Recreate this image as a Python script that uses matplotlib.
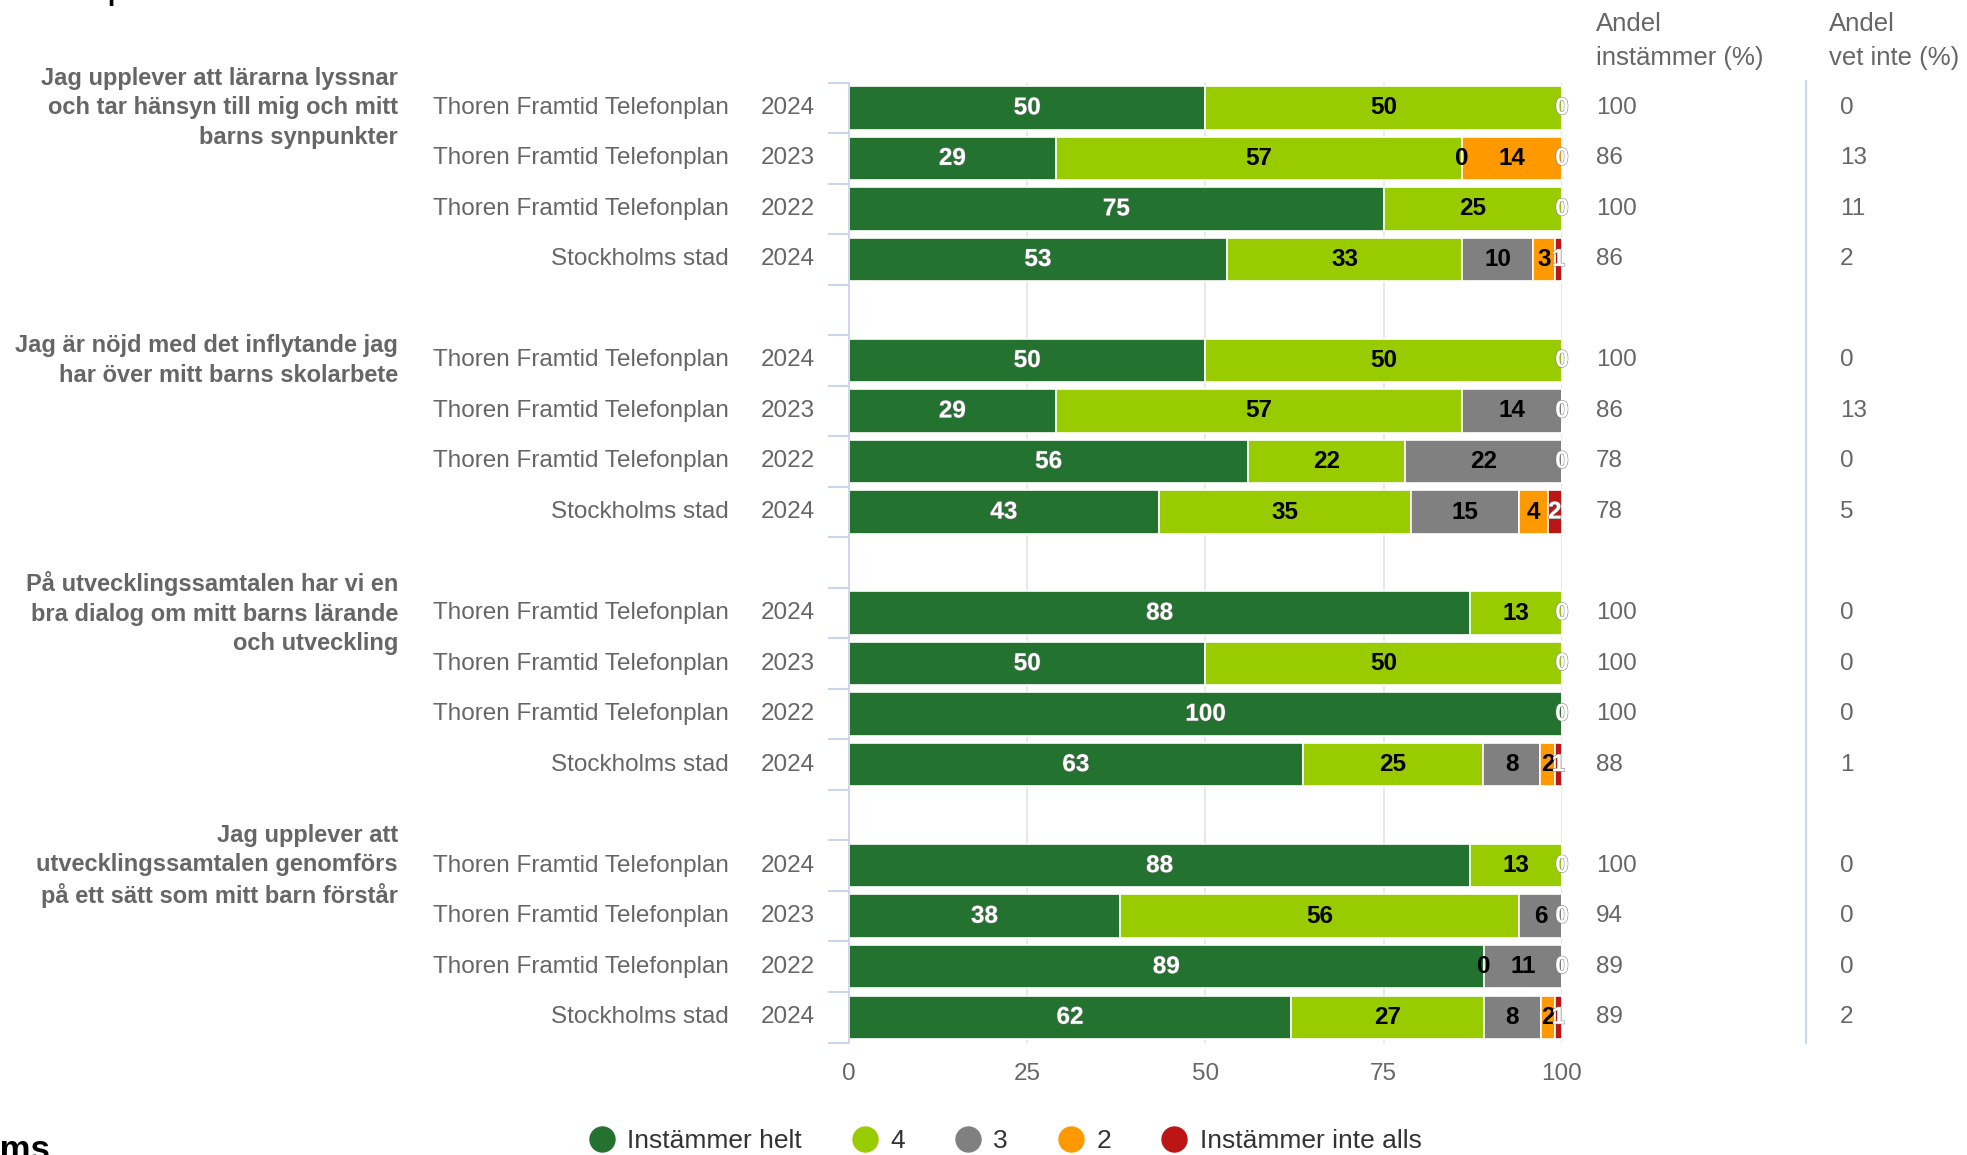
import numpy as np
import matplotlib.pyplot as plt
import matplotlib.patheffects as pe
from matplotlib.lines import Line2D

plt.rcParams['font.family'] = ['Liberation Sans', 'DejaVu Sans']

questions = [
    "Jag upplever att lärarna lyssnar\noch tar hänsyn till mig och mitt\nbarns synpunkter",
    "Jag är nöjd med det inflytande jag\nhar över mitt barns skolarbete",
    "På utvecklingssamtalen har vi en\nbra dialog om mitt barns lärande\noch utveckling",
    "Jag upplever att\nutvecklingssamtalen genomförs\npå ett sätt som mitt barn förstår",
]
units = ["Thoren Framtid Telefonplan"] * 3 + ["Stockholms stad"]
years = ["2024", "2023", "2022", "2024"]

series_names = ["Instämmer helt", "4", "3", "2", "Instämmer inte alls"]
helt = [50, 29, 75, 53, 50, 29, 56, 43, 88, 50, 100, 63, 88, 38, 89, 62]
four = [50, 57, 25, 33, 50, 57, 22, 35, 13, 50, 0, 25, 13, 56, 0, 27]
three = [0, 0, 0, 10, 0, 14, 22, 15, 0, 0, 0, 8, 0, 6, 11, 8]
two = [0, 14, 0, 3, 0, 0, 0, 4, 0, 0, 0, 2, 0, 0, 0, 2]
inte = [0, 0, 0, 1, 0, 0, 0, 2, 0, 0, 0, 1, 0, 0, 0, 1]
andel_instammer = [100, 86, 100, 86, 100, 86, 78, 78, 100, 100, 100, 88, 100, 94, 89, 89]
andel_vet_inte = [0, 13, 11, 2, 0, 13, 0, 5, 0, 0, 0, 1, 0, 0, 0, 2]
x_ticks = [0, 25, 50, 75, 100]

colors = ['#23722f', '#99cc00', '#808080', '#ff9900', '#bb1515']
label_colors = ['white', 'black', 'black', 'black', 'white']
GREY = '#666666'
AXIS_BLUE = '#ccd6eb'
FS = 17.5

values = np.array([helt, four, three, two, inte], dtype=float)
n_rows = values.shape[1]
rows_per_group = 4
# one empty slot between the question groups
ypos = np.array([(i // rows_per_group) * (rows_per_group + 1) + i % rows_per_group
                 for i in range(n_rows)])
pct = values / values.sum(axis=0) * 100
lefts = np.vstack([np.zeros(n_rows), np.cumsum(pct, axis=0)[:-1]])

fig = plt.figure(figsize=(19.67, 11.55), dpi=100)
ax = fig.add_axes([0.4316, 0.0974, 0.3625, 0.8311])

for k in range(len(series_names)):
    ax.barh(ypos, pct[k], left=lefts[k], height=0.86, color=colors[k],
            edgecolor='white', linewidth=1.2, zorder=2)

# data labels, zero-width segments at the same spot only show the last one
for i in range(n_rows):
    shown = {}
    for k in range(len(series_names)):
        xc = lefts[k, i] + pct[k, i] / 2
        shown[round(xc, 1)] = (xc, k)
    for xc, k in shown.values():
        txt = ax.text(xc, ypos[i], f"{values[k, i]:.0f}", ha='center', va='center',
                      fontsize=FS, fontweight='bold', color=label_colors[k], zorder=3)
        if label_colors[k] == 'white':
            txt.set_path_effects([pe.withStroke(linewidth=0.7, foreground='#777777')])

ax.set_xlim(0, 100)
ax.set_ylim(ypos.max() + 0.5, -0.5)
ax.set_xticks(x_ticks)
ax.set_xticklabels([str(t) for t in x_ticks])
ax.set_yticks(np.arange(-0.5, ypos.max() + 1, 1))
ax.set_yticklabels([])
ax.tick_params(axis='x', length=0, pad=15, labelsize=FS, labelcolor=GREY)
ax.tick_params(axis='y', length=15, width=1.5, color=AXIS_BLUE)
ax.xaxis.grid(True, color='#e6e6e6', linewidth=1.3, zorder=0)
ax.set_axisbelow(True)
for side in ['top', 'right', 'bottom']:
    ax.spines[side].set_visible(False)
ax.spines['left'].set_color(AXIS_BLUE)
ax.spines['left'].set_linewidth(1.3)

ytr = ax.get_yaxis_transform()
for i in range(n_rows):
    y = ypos[i]
    r = i % rows_per_group
    ax.text(-0.1683, y, units[r], transform=ytr, ha='right', va='center',
            fontsize=FS, color=GREY)
    ax.text(-0.0477, y, years[r], transform=ytr, ha='right', va='center',
            fontsize=FS, color=GREY)
    ax.text(1.0477, y, str(andel_instammer[i]), transform=ytr, ha='left',
            va='center', fontsize=FS, color=GREY)
    ax.text(1.390, y, str(andel_vet_inte[i]), transform=ytr, ha='left',
            va='center', fontsize=FS, color=GREY)

for g, q in enumerate(questions):
    ax.text(-0.6325, ypos[g * rows_per_group], q, transform=ytr, ha='right',
            va='center', fontsize=17, fontweight='bold', color=GREY,
            linespacing=1.35)

# right-hand columns
fig.text(1596 / 1967, 1 - 41 / 1155, "Andel\ninstämmer (%)", ha='left', va='center',
         fontsize=18.5, color=GREY, linespacing=1.5)
fig.text(1829 / 1967, 1 - 41 / 1155, "Andel\nvet inte (%)", ha='left', va='center',
         fontsize=18.5, color=GREY, linespacing=1.5)
ax.plot([1.342, 1.342], [0, 1.002], transform=ax.transAxes, clip_on=False,
        color=AXIS_BLUE, linewidth=1.5)

handles = [Line2D([], [], marker='o', linestyle='none', markersize=18,
                  markerfacecolor=c, markeredgecolor=c) for c in colors]
fig.legend(handles, series_names, loc='center', bbox_to_anchor=(0.511, 1 - 1141 / 1155),
           ncol=5, frameon=False, fontsize=19, labelcolor='#333333',
           handletextpad=0.45, columnspacing=1.9, handlelength=1.0)

# page fragments cut off by the screenshot edges
fig.text(106 / 1967, 1 + 3 / 1155, "p", ha='left', va='baseline',
         fontsize=30, color='black')
fig.text(50 / 1967, -0.004, "Stockholms", ha='right', va='baseline',
         fontsize=25, fontweight='bold', color='black')

fig.savefig('out.png', dpi=100)
